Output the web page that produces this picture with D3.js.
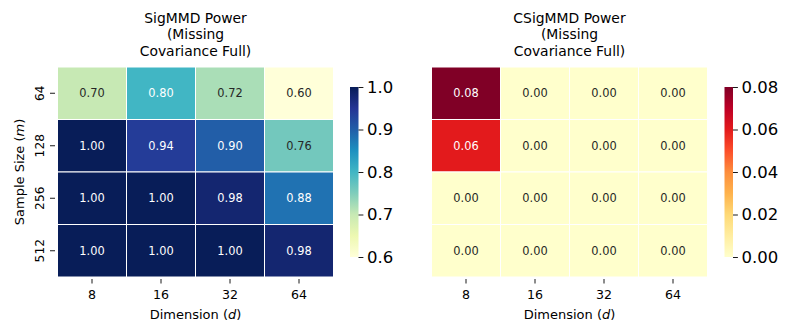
<!DOCTYPE html>
<html><head><meta charset="utf-8">
<script src="https://cdn.jsdelivr.net/npm/d3@7"></script>
<style>body{margin:0;background:#fff}svg{display:block;font-family:"DejaVu Sans",sans-serif}</style>
</head><body><svg id="c" width="793" height="336"></svg>
<script>
const dims = ["8","16","32","64"];
const sizes = ["64","128","256","512"];
const sigmmd = [
  [0.70,0.80,0.72,0.60],
  [1.00,0.94,0.90,0.76],
  [1.00,1.00,0.98,0.88],
  [1.00,1.00,1.00,0.98]
];
const csigmmd = [
  [0.08,0.00,0.00,0.00],
  [0.06,0.00,0.00,0.00],
  [0.00,0.00,0.00,0.00],
  [0.00,0.00,0.00,0.00]
];
const titles = [["SigMMD Power","(Missing","Covariance Full)"],["CSigMMD Power","(Missing","Covariance Full)"]];
const cbTicksL = [0.6,0.7,0.8,0.9,1.0];
const cbTicksR = [0.00,0.02,0.04,0.06,0.08];

const svg = d3.select("#c");
function lum(c){
  const r = d3.rgb(c);
  const f = v => { v/=255; return v<=0.03928? v/12.92 : Math.pow((v+0.055)/1.055,2.4); };
  return 0.2126*f(r.r)+0.7152*f(r.g)+0.0722*f(r.b);
}
function makeColor(scheme, lo, hi){
  const n = scheme.length;
  return d3.scaleLinear().domain(d3.range(n).map(i => lo + (hi-lo)*i/(n-1))).range(scheme).clamp(true);
}

function panel(opts){
  const {data, x0, title, scheme, lo, hi, ticks, fmt, cbX, showY} = opts;
  const top = 67, bottom = 277, w = 276;
  const x = d3.scaleBand().domain(dims).range([x0, x0+w]);
  const y = d3.scaleBand().domain(sizes).range([top, bottom]);
  const color = makeColor(scheme, lo, hi);
  const g = svg.append("g");
  const cells = [];
  data.forEach((row,i)=>row.forEach((v,j)=>cells.push({r:sizes[i],c:dims[j],v})));
  g.selectAll("rect.cell").data(cells).join("rect")
    .attr("x",d=>x(d.c)).attr("y",d=>y(d.r))
    .attr("width",x.bandwidth()).attr("height",y.bandwidth())
    .attr("fill",d=>color(d.v)).attr("stroke","#fff").attr("stroke-width",1);
  g.selectAll("text.val").data(cells).join("text")
    .attr("x",d=>x(d.c)+x.bandwidth()/2).attr("y",d=>y(d.r)+y.bandwidth()/2)
    .attr("dy","0.36em").attr("text-anchor","middle").attr("font-size",11.4)
    .attr("fill",d=>lum(color(d.v))>0.408?"#262626":"#fff")
    .text(d=>d.v.toFixed(2));
  // x axis
  const xa = g.append("g").attr("transform",`translate(0,${bottom})`)
    .call(d3.axisBottom(x).tickSize(6.5).tickPadding(6.8));
  xa.select(".domain").remove();
  xa.selectAll("text").attr("font-size",12.6).attr("fill","#000").attr("font-family","DejaVu Sans");
  xa.selectAll("line").attr("stroke","#000").attr("stroke-width",0.9).attr("y1",2);
  const xl = g.append("text").attr("x",x0+w/2).attr("y",319).attr("text-anchor","middle").attr("font-size",13).attr("fill","#000");
  xl.append("tspan").text("Dimension (");
  xl.append("tspan").attr("font-style","italic").text("d");
  xl.append("tspan").text(")");
  if(showY){
    const ya = g.append("g").attr("transform",`translate(${x0},0)`)
      .call(d3.axisLeft(y).tickSize(5).tickPadding(3.5));
    ya.select(".domain").remove();
    ya.selectAll("line").attr("stroke","#000").attr("stroke-width",0.9).attr("x1",-2.5).attr("x2",-7.5);
    ya.selectAll("text").attr("font-size",12.2).attr("fill","#000").attr("font-family","DejaVu Sans")
      .attr("text-anchor","middle").attr("x",null).attr("dy",null)
      .attr("transform","translate(-13.5,0) rotate(-90)");
    const yl = g.append("text").attr("transform",`translate(23.5,${(top+bottom)/2}) rotate(-90)`)
      .attr("text-anchor","middle").attr("font-size",13).attr("fill","#000");
    yl.append("tspan").text("Sample Size (");
    yl.append("tspan").attr("font-style","italic").text("m");
    yl.append("tspan").text(")");
  }
  // title
  const tt = g.append("text").attr("text-anchor","middle").attr("font-size",13.9).attr("fill","#000");
  title.forEach((s,i)=>tt.append("tspan").attr("x",x0+w/2).attr("y",23+16.3*i).text(s));
  // colorbar
  const cbTop = 87, cbBot = 257, cbW = 8.5;
  const id = "grad"+Math.round(cbX);
  const grad = svg.append("defs").append("linearGradient").attr("id",id)
    .attr("x1",0).attr("y1",1).attr("x2",0).attr("y2",0);
  scheme.forEach((c,i)=>grad.append("stop").attr("offset",i/(scheme.length-1)).attr("stop-color",c));
  g.append("rect").attr("x",cbX).attr("y",cbTop).attr("width",cbW).attr("height",cbBot-cbTop).attr("fill",`url(#${id})`);
  const cy = d3.scaleLinear().domain([lo,hi]).range([cbBot,cbTop]);
  const ca = g.append("g").attr("transform",`translate(${cbX+cbW},0)`)
    .call(d3.axisRight(cy).tickValues(ticks).tickFormat(fmt).tickSize(4.9).tickPadding(3.5));
  ca.select(".domain").remove();
  ca.selectAll("line").attr("stroke","#000").attr("stroke-width",0.9);
  ca.selectAll("text").attr("font-size",16.5).attr("fill","#000").attr("font-family","DejaVu Sans");
}

panel({data:sigmmd, x0:57.5, title:titles[0], scheme:d3.schemeYlGnBu[9], lo:0.6, hi:1.0,
  ticks:cbTicksL, fmt:d3.format(".1f"), cbX:350, showY:true});
panel({data:csigmmd, x0:431.5, title:titles[1], scheme:d3.schemeYlOrRd[9], lo:0.0, hi:0.08,
  ticks:cbTicksR, fmt:d3.format(".2f"), cbX:724.5, showY:false});
</script></body></html>
